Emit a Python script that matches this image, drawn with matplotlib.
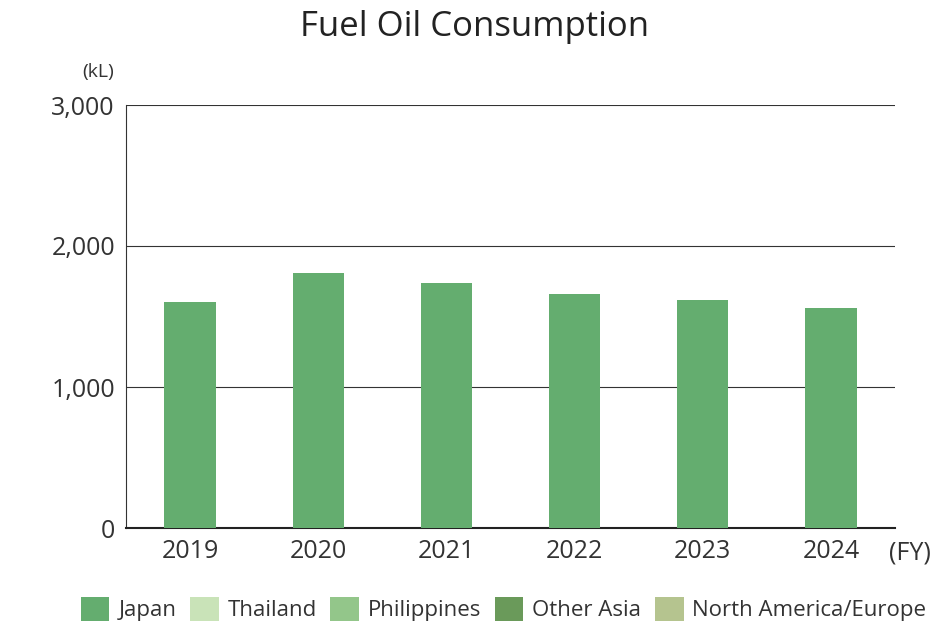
import matplotlib
matplotlib.use('Agg')
import matplotlib.pyplot as plt
from matplotlib.patches import Patch

years = ['2019', '2020', '2021', '2022', '2023', '2024']
japan = [1603, 1809, 1738, 1660, 1617, 1560]

legend_names = ['Japan', 'Thailand', 'Philippines', 'Other Asia', 'North America/Europe']
legend_colors = ['#64ad6f', '#c9e3b8', '#93c68a', '#6a9a5a', '#b5c48f']

plt.rcParams['font.family'] = ['Open Sans', 'DejaVu Sans']

fig = plt.figure(figsize=(9.5, 6.4), dpi=100)
ax = fig.add_axes([126 / 950, 1 - 528 / 640, (895 - 126) / 950, (528 - 105) / 640])

x = range(len(years))
ax.bar(x, japan, width=0.4, color=legend_colors[0], zorder=3)

ax.set_ylim(0, 3000)
ax.set_xlim(-0.5, len(years) - 0.5)
ax.set_yticks([0, 1000, 2000, 3000])
ax.set_yticklabels(['0', '1,000', '2,000', '3,000'], fontsize=18, color='#333333')
ax.set_xticks(list(x))
ax.set_xticklabels(years, fontsize=18, color='#333333')
ax.tick_params(length=0, pad=8)
ax.grid(axis='y', color='#333333', linewidth=0.8, zorder=0)
for s in ['top', 'right']:
    ax.spines[s].set_visible(False)
ax.spines['left'].set_color('#333333')
ax.spines['bottom'].set_color('#222222')
ax.spines['bottom'].set_linewidth(1.5)

fig.text(0.5, 1 - 27 / 640, 'Fuel Oil Consumption', ha='center', va='center', fontsize=25, color='#222222')
fig.text(98 / 950, 1 - 72 / 640, '(kL)', ha='center', va='center', fontsize=14, color='#333333')
fig.text(910 / 950, 1 - 553 / 640, '(FY)', ha='center', va='center', fontsize=18, color='#333333')

handles = [Patch(facecolor=c, edgecolor='none') for c in legend_colors]
fig.legend(handles, legend_names, loc='center', bbox_to_anchor=(0.53, 1 - 609 / 640), ncol=5,
           frameon=False, fontsize=16, handlelength=1.3, handleheight=1.3,
           columnspacing=0.6, handletextpad=0.4, labelcolor='#333333')

plt.savefig('out.png', dpi=100)
